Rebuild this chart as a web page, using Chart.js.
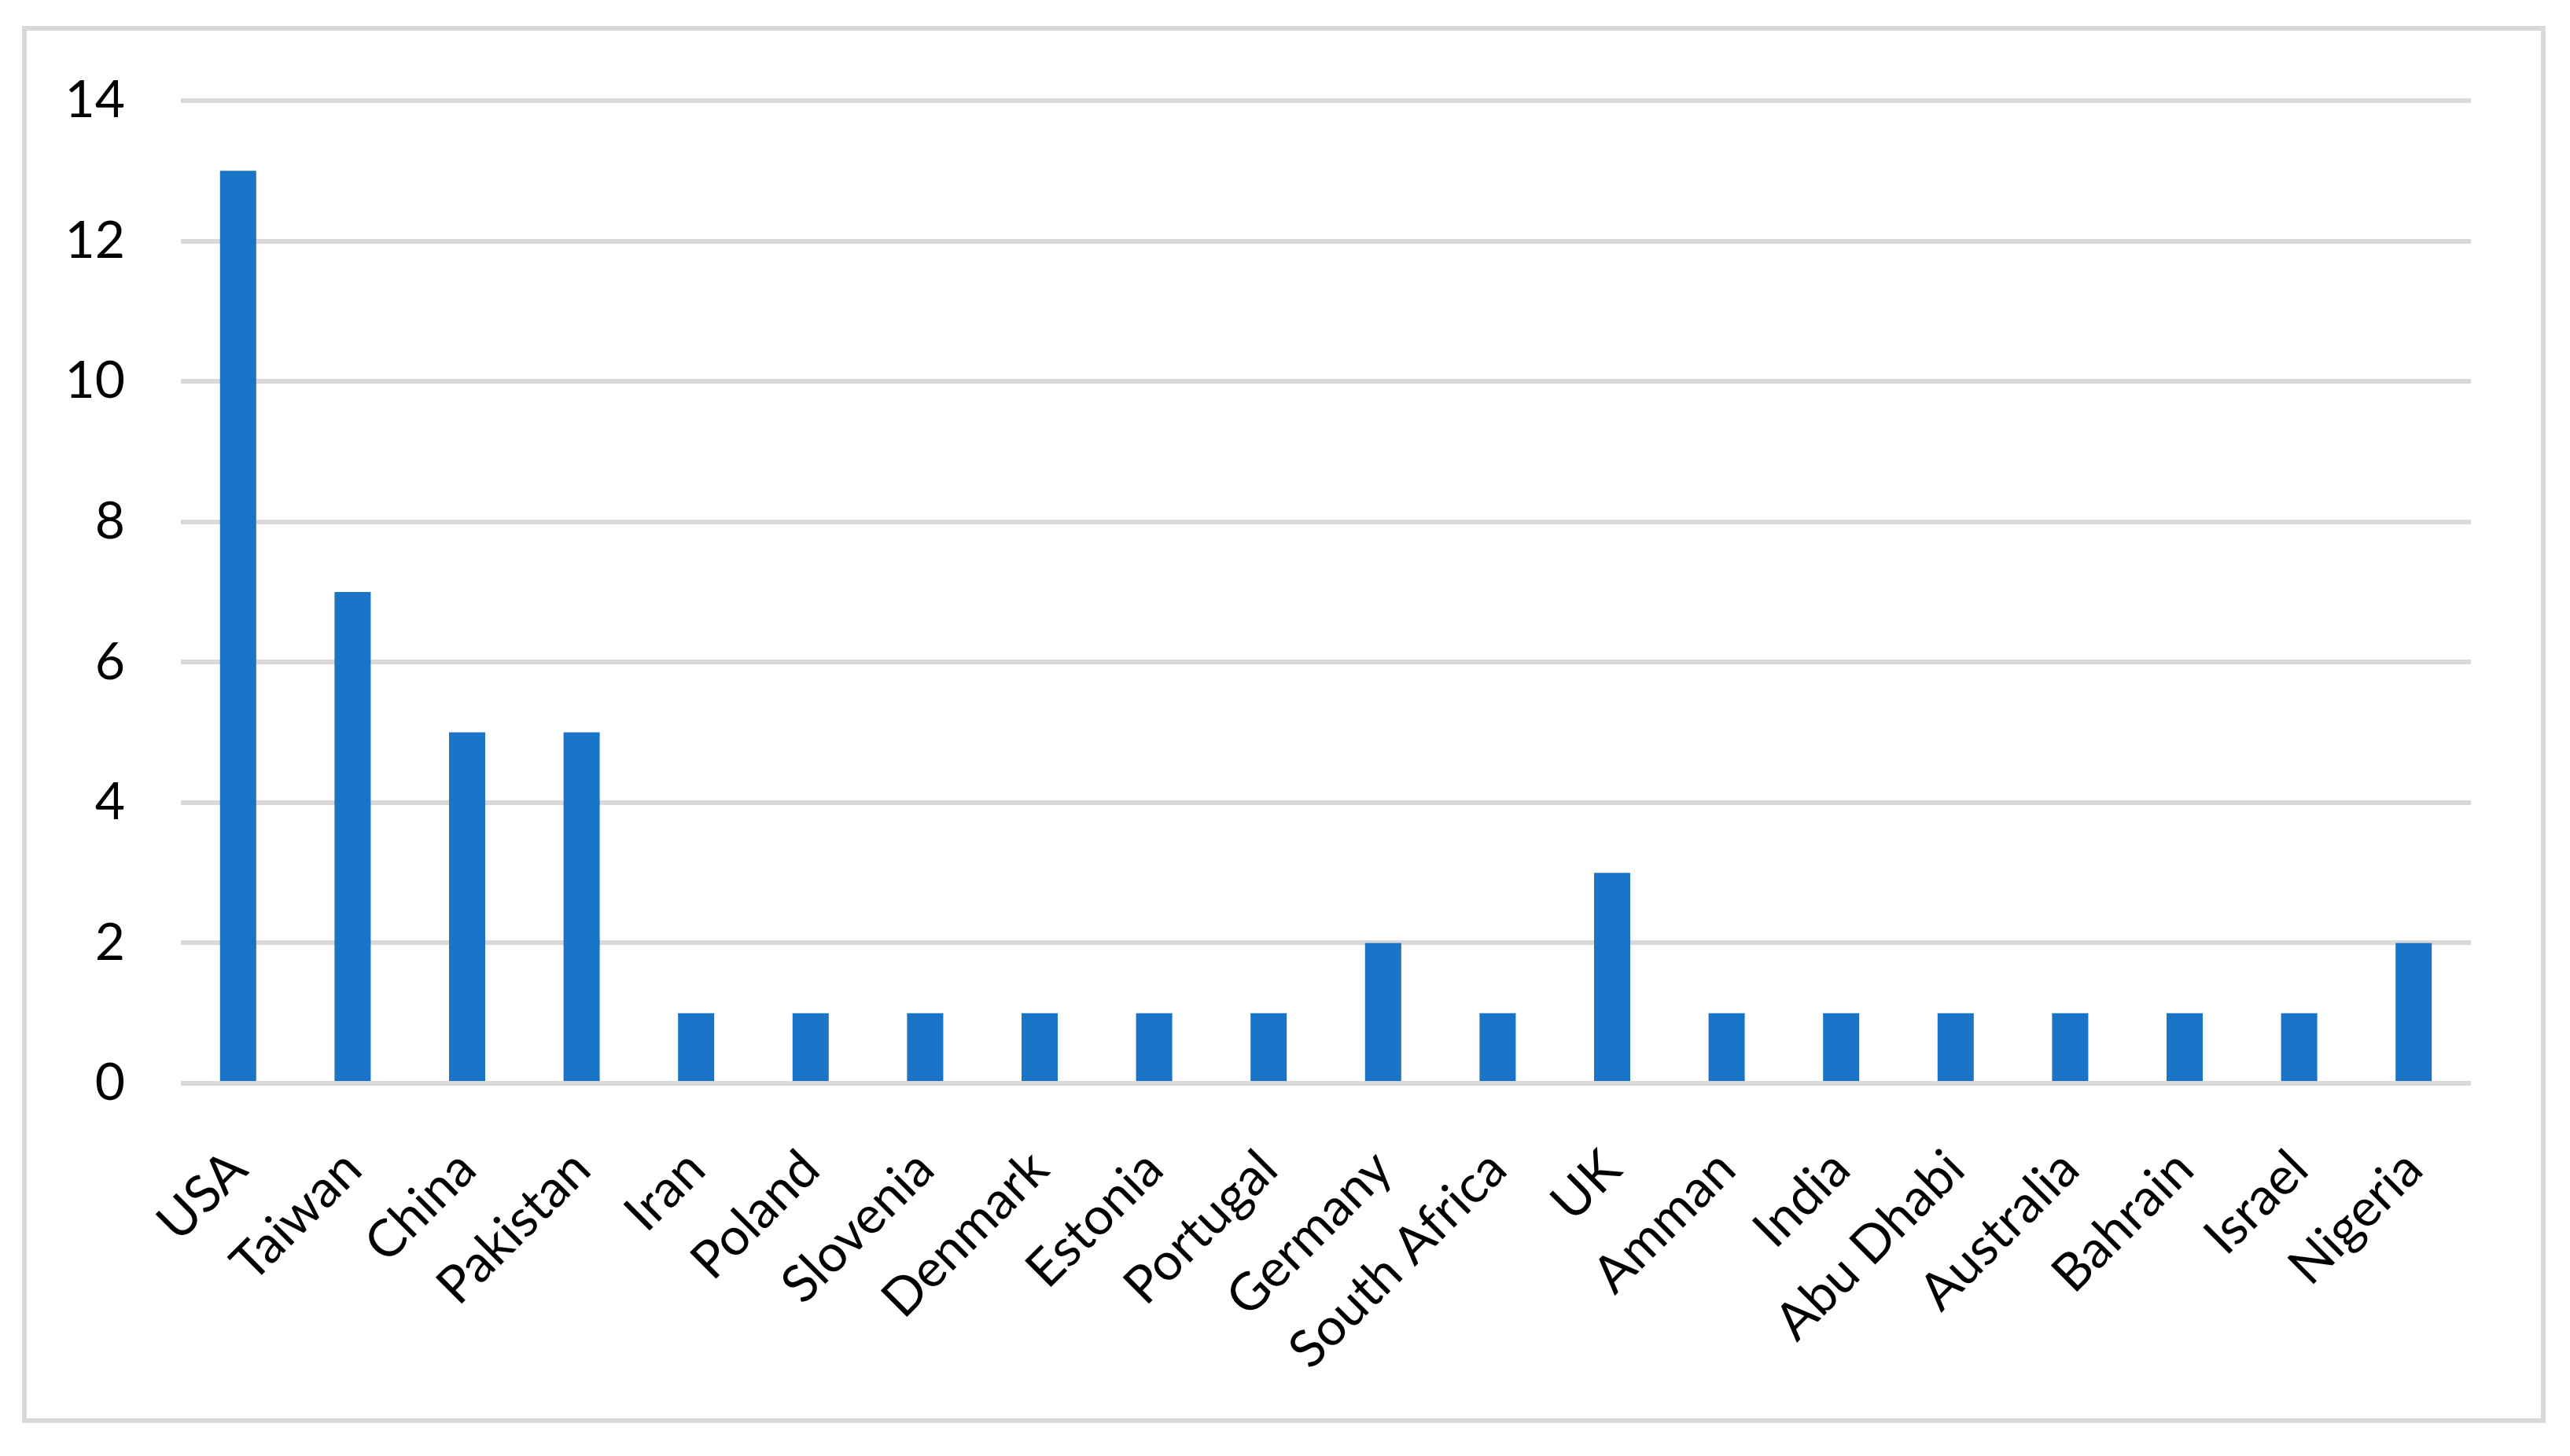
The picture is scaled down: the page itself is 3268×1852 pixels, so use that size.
<!DOCTYPE html>
<html>
<head>
<meta charset="utf-8">
<script src="https://cdn.jsdelivr.net/npm/chart.js@4"></script>
<style>
  html, body { margin: 0; padding: 0; background: #ffffff; }
  #wrap { width: 3268px; height: 1852px; }
</style>
</head>
<body>
<div id="wrap"><canvas id="myBarChart" width="3268" height="1852"></canvas></div>
<script>
// countries along the x axis
var countries = ['USA', 'Taiwan', 'China', 'Pakistan', 'Iran', 'Poland', 'Slovenia',
    'Denmark', 'Estonia', 'Portugal', 'Germany', 'South Africa', 'UK', 'Amman',
    'India', 'Abu Dhabi', 'Australia', 'Bahrain', 'Israel', 'Nigeria'];
// number of entries per country
var counts = [13, 7, 5, 5, 1, 1, 1, 1, 1, 1, 2, 1, 3, 1, 1, 1, 1, 1, 1, 2];
// value axis
var yMin = 0;
var yMax = 14;
var yStep = 2;

var gridGrey = '#d9d9d9';
var barBlue = '#1a74c8';
var labelFont = { family: 'Lato, "Open Sans", sans-serif', size: 66 };

// white page and the light grey frame round the chart
var framePlugin = {
    id: 'frame',
    beforeDraw: function (chart) {
        var c = chart.ctx;
        c.save();
        c.fillStyle = '#ffffff';
        c.fillRect(0, 0, chart.width, chart.height);
        c.strokeStyle = gridGrey;
        c.lineWidth = 6;
        c.strokeRect(31, 36, 3203, 1771);
        c.restore();
    }
};

var ctx_bar = document.getElementById('myBarChart').getContext('2d');
var chart_bar = new Chart(ctx_bar, {
    type: 'bar',
    data: {
        labels: countries,
        datasets: [{
            data: counts,
            backgroundColor: barBlue,
            borderWidth: 0,
            barPercentage: 0.316,
            categoryPercentage: 1.0
        }]
    },
    options: {
        responsive: false,
        animation: false,
        devicePixelRatio: 1,
        layout: {
            padding: { top: 128, right: 126, bottom: 0, left: 0 }
        },
        plugins: {
            legend: { display: false },
            title: { display: false },
            tooltip: { enabled: false }
        },
        scales: {
            x: {
                grid: { display: false, drawTicks: false },
                border: { display: false },
                ticks: {
                    color: '#000000',
                    font: labelFont,
                    maxRotation: 45,
                    minRotation: 45,
                    autoSkip: false,
                    padding: 70
                },
                afterFit: function (scale) { scale.height = 474; }
            },
            y: {
                min: yMin,
                max: yMax,
                grid: { color: gridGrey, lineWidth: 6, drawTicks: false },
                border: { display: false },
                ticks: {
                    stepSize: yStep,
                    color: '#000000',
                    font: labelFont,
                    padding: 71
                },
                afterFit: function (scale) { scale.width = 230; }
            }
        }
    },
    plugins: [framePlugin]
});
</script>
</body>
</html>
